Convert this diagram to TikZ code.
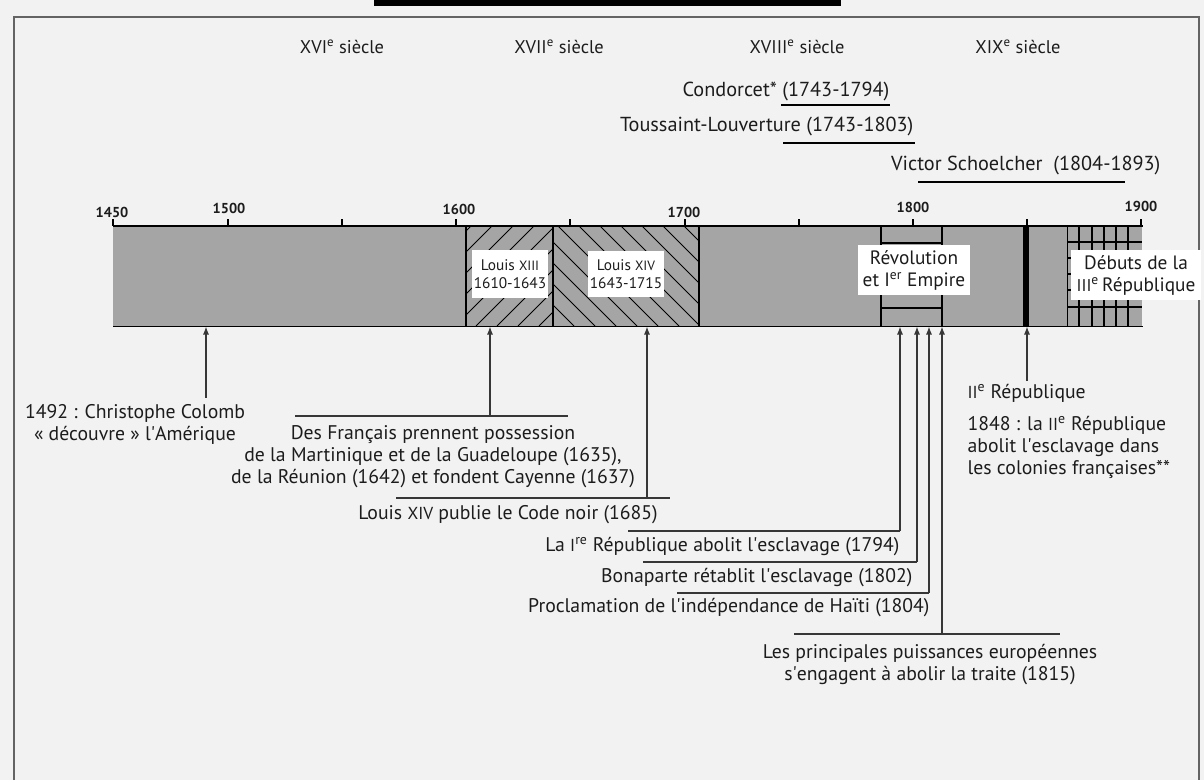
\documentclass[tikz,border=0pt]{standalone}
\usepackage{fontspec}
\setmainfont{PT Sans}
\usetikzlibrary{
  arrows.meta,
  positioning,
  calc
}
\definecolor{pagebg}{RGB}{242,242,242}
\definecolor{framegray}{RGB}{100,100,100}
\definecolor{bargray}{RGB}{165,165,165}
\definecolor{inkblack}{RGB}{28,28,28}
\definecolor{rulegray}{RGB}{55,55,55}
\newcommand{\smallrom}[1]{\scalebox{0.88}{#1}}
\newcommand{\ap}{\textquotesingle}
\tikzset{
  timebar/.style={
    fill=bargray, inner sep=0pt, anchor=north west,
    minimum width=771.75pt, minimum height=75pt
  },
  centurylabel/.style={
    font=\fontsize{13.8}{16}\selectfont, text=inkblack, inner sep=1pt
  },
  yearlabel/.style={
    font=\fontsize{10.8}{12}\selectfont\bfseries, text=inkblack, inner sep=1pt
  },
  personlabel/.style={
    font=\fontsize{15.2}{17}\selectfont, text=inkblack,
    inner sep=1pt, anchor=east
  },
  eventlabel/.style={
    font=\fontsize{14.8}{16.5}\selectfont, text=inkblack,
    inner sep=1pt, align=center
  },
  reignbox/.style={
    fill=white, inner sep=1pt, align=center, text=inkblack,
    font=\fontsize{11.5}{13.5}\selectfont
  },
  periodbox/.style={
    fill=white, inner sep=1pt, align=center, text=inkblack,
    font=\fontsize{14.5}{16.5}\selectfont
  },
  lifeunderline/.style={draw=black, line width=1.6pt},
  eventrule/.style={draw=rulegray, line width=0.8pt},
  eventarrow/.style={
    -{Latex[length=6pt,width=4.5pt]},
    draw=rulegray, line width=0.8pt
  },
  hatch/.style={draw=black, line width=0.6pt},
  barline/.style={draw=black, line width=0.8pt},
}

\begin{document}
\begin{tikzpicture}[x=0.75pt, y=-0.75pt]

  \useasboundingbox (0,0) rectangle (1204,780);
  \fill[pagebg] (0,0) rectangle (1204,780);

  %% Title rule (cut off) and frame
  \fill[black] (374,0) rectangle (841,6);
  \draw[framegray, line width=1.3pt]
    (14,780) -- (14,17) -- (1199,17) -- (1199,780);

  %% Centuries
  \node[centurylabel] (c16) at (342,47) {XVI\textsuperscript{e} siècle};
  \node[centurylabel] (c17) at (559,47) {XVII\textsuperscript{e} siècle};
  \node[centurylabel] (c18) at (797,47) {XVIII\textsuperscript{e} siècle};
  \node[centurylabel] (c19) at (1018,47) {XIX\textsuperscript{e} siècle};

  %% Persons and their life spans
  \node[personlabel] (condorcet) at (891,91) {Condorcet* (1743-1794)};
  \draw[lifeunderline] (781,105) -- (890,105);
  \node[personlabel] (toussaint) at (915,127) {Toussaint-Louverture (1743-1803)};
  \draw[lifeunderline] (783,143) -- (915,143);
  \node[personlabel] (schoelcher) at (1162,166) {Victor Schoelcher~ (1804-1893)};
  \draw[lifeunderline] (918,182) -- (1125,182);

  %% Time bar
  \node[timebar] (bar) at (113,226) {};

  %% Louis XIII / Louis XIV hatching
  \begin{scope}
    \clip (466,226) rectangle (553,326);
    \foreach \a in {350,371,...,560}
      \draw[hatch] (\a,326) -- ++(100,-100);
  \end{scope}
  \begin{scope}
    \clip (553,226) rectangle (699,326);
    \foreach \a in {453,474,...,700}
      \draw[hatch] (\a,226) -- ++(100,100);
  \end{scope}
  \foreach \x in {466,553,699}
    \draw[barline] (\x,226) -- (\x,326);

  %% Revolution block
  \draw[barline] (881,226) -- (881,326) (942,226) -- (942,326)
    (881,243) -- (942,243) (881,308) -- (942,308);

  %% Third Republic grid
  \begin{scope}
    \clip (1067,226) rectangle (1142,326);
    \foreach \x in {1067,1079,1092,1104,1116,1128}
      \draw[barline] (\x,226) -- (\x,326);
    \foreach \y in {242,258,274,290,307}
      \draw[barline] (1067,\y) -- (1142,\y);
  \end{scope}

  %% 1848
  \draw[line width=3.8pt] (1026,226) -- (1026,326);

  \draw[barline] (bar.north west) -- (bar.north east);
  \draw[barline] (bar.south west) -- (bar.south east);

  %% Ticks and years
  \foreach \x in {113,228,342,456,570,685,799,913,1027,1141}
    \draw[barline] (\x,226) -- (\x,219);
  \foreach \x/\y/\yr in {112/212/1450, 229/208/1500, 459/209/1600,
                         684/212/1700, 913/207/1800, 1141/206/1900}
    \node[yearlabel] (y\yr) at (\x,\y) {\yr};

  %% Labels inside the bar
  \node[reignbox, minimum width=55pt, minimum height=36pt] (lxiii)
    at (510,274) {Louis \smallrom{XIII}\\1610-1643};
  \node[reignbox, minimum width=54pt, minimum height=34pt] (lxiv)
    at (626,274) {Louis \smallrom{XIV}\\1643-1715};
  \node[periodbox, minimum width=84pt, minimum height=37pt] (revol)
    at (914,270) {Révolution\\et I\textsuperscript{er} Empire};
  \node[periodbox, minimum width=97pt, minimum height=37pt] (debuts)
    at (1136,275) {Débuts de la\\\smallrom{III}\textsuperscript{e}\,République};

  %% 1492
  \node[eventlabel] (colomb) at (135,424)
    {1492 : Christophe Colomb\\«~découvre~» l\ap Amérique};
  \coordinate (colomb-up) at (206,398);
  \draw[eventarrow] (colomb-up) -- (colomb-up |- bar.south);

  %% Colonies
  \coordinate (fr-left) at (295,416);
  \coordinate (fr-right) at (568,416);
  \coordinate (fr-up) at (490,416);
  \draw[eventrule] (fr-left) -- (fr-right);
  \draw[eventarrow] (fr-up) -- (fr-up |- bar.south);
  \node[eventlabel] (francais) at (433,457)
    {Des Français prennent possession\\
     de la Martinique et de la Guadeloupe (1635),\\
     de la Réunion (1642) et fondent Cayenne (1637)};

  %% Code noir
  \coordinate (cn-left) at (396,498);
  \coordinate (cn-right) at (670,498);
  \coordinate (cn-up) at (647,498);
  \draw[eventrule] (cn-left) -- (cn-right);
  \draw[eventarrow] (cn-up) -- (cn-up |- bar.south);
  \node[eventlabel] (codenoir) at (508,515)
    {Louis \smallrom{XIV} publie le Code noir (1685)};

  %% 1794
  \coordinate (r1-left) at (628,531);
  \coordinate (r1-up) at (900,531);
  \draw[eventrule] (r1-left) -- (r1-up);
  \draw[eventarrow] (r1-up) -- (r1-up |- bar.south);
  \node[eventlabel, anchor=east] (rep1) at (901,547)
    {La \smallrom{I}\textsuperscript{re} République abolit l\ap esclavage (1794)};

  %% 1802
  \coordinate (bn-left) at (643,562);
  \coordinate (bn-up) at (917,562);
  \draw[eventrule] (bn-left) -- (bn-up);
  \draw[eventarrow] (bn-up) -- (bn-up |- bar.south);
  \node[eventlabel, anchor=east] (bonaparte) at (914,578)
    {Bonaparte rétablit l\ap esclavage (1802)};

  %% 1804
  \coordinate (ht-left) at (677,593);
  \coordinate (ht-up) at (929,593);
  \draw[eventrule] (ht-left) -- (ht-up);
  \draw[eventarrow] (ht-up) -- (ht-up |- bar.south);
  \node[eventlabel, anchor=east] (haiti) at (931,608)
    {Proclamation de l\ap indépendance de Haïti (1804)};

  %% 1815
  \coordinate (tr-left) at (794,634);
  \coordinate (tr-right) at (1060,634);
  \coordinate (tr-up) at (942,634);
  \draw[eventrule] (tr-left) -- (tr-right);
  \draw[eventarrow] (tr-up) -- (tr-up |- bar.south);
  \node[eventlabel] (traite) at (930,665)
    {Les principales puissances européennes\\
     s\ap engagent à abolir la traite (1815)};

  %% 1848
  \coordinate (r2-up) at (1027,381);
  \draw[eventarrow] (r2-up) -- (r2-up |- bar.south);
  \node[eventlabel, anchor=west] (rep2) at (966,393)
    {\smallrom{II}\textsuperscript{e} République};
  \node[eventlabel, anchor=west, align=left] (rep2txt) at (966,447)
    {1848 : la \smallrom{II}\textsuperscript{e} République\\
     abolit l\ap esclavage dans\\
     les colonies françaises**};

\end{tikzpicture}
\end{document}
